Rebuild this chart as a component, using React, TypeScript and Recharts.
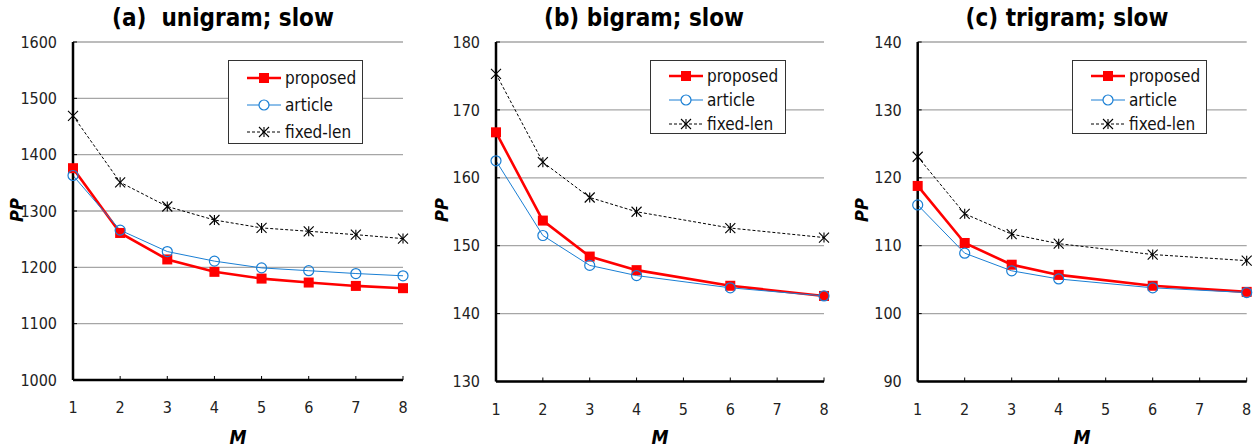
import React from 'react';
import { LineChart, Line, XAxis, YAxis, CartesianGrid, Legend } from 'recharts';

const FONT = '"Liberation Sans Narrow", "Arial Narrow", "DejaVu Sans Condensed", sans-serif';

const mTicks = [1, 2, 3, 4, 5, 6, 7, 8];

// (a) unigram
const uniM = [1, 2, 3, 4, 5, 6, 7, 8];
const uniProposed = [1376, 1261, 1214, 1192, 1180, 1173, 1167, 1163];
const uniArticle = [1363, 1266, 1228, 1211, 1199, 1194, 1189, 1185];
const uniFixed = [1469, 1351, 1308, 1284, 1270, 1264, 1258, 1251];
const uniTicks = [1000, 1100, 1200, 1300, 1400, 1500, 1600];

// (b) bigram
const biM = [1, 2, 3, 4, 6, 8];
const biProposed = [166.7, 153.7, 148.4, 146.4, 144.1, 142.6];
const biArticle = [162.5, 151.5, 147.1, 145.6, 143.8, 142.6];
const biFixed = [175.3, 162.3, 157.1, 155.0, 152.6, 151.2];
const biTicks = [130, 140, 150, 160, 170, 180];

// (c) trigram
const triM = [1, 2, 3, 4, 6, 8];
const triProposed = [118.8, 110.4, 107.2, 105.7, 104.1, 103.2];
const triArticle = [116.0, 108.9, 106.3, 105.1, 103.8, 103.1];
const triFixed = [123.1, 114.7, 111.7, 110.3, 108.7, 107.8];
const triTicks = [90, 100, 110, 120, 130, 140];

const RED = '#ff0000';
const BLUE = '#1a7fd4';

type Row = { m: number; proposed: number; article: number; fixed: number };

const buildRows = (ms: number[], p: number[], a: number[], f: number[]): Row[] =>
  ms.map((m, i) => ({ m, proposed: p[i], article: a[i], fixed: f[i] }));

const SquareDot = (props: any) => {
  const { cx, cy } = props;
  if (cx == null || cy == null) return null;
  return <rect x={cx - 5} y={cy - 5} width={10} height={10} fill={RED} />;
};

const CircleDot = (props: any) => {
  const { cx, cy } = props;
  if (cx == null || cy == null) return null;
  return <circle cx={cx} cy={cy} r={5} fill="none" stroke={BLUE} strokeWidth={1.2} />;
};

const StarDot = (props: any) => {
  const { cx, cy } = props;
  if (cx == null || cy == null) return null;
  const s = 5;
  return (
    <g stroke="#000" strokeWidth={1.1}>
      <line x1={cx - s} y1={cy - s} x2={cx + s} y2={cy + s} />
      <line x1={cx - s} y1={cy + s} x2={cx + s} y2={cy - s} />
      <line x1={cx} y1={cy - s} x2={cx} y2={cy + s} />
    </g>
  );
};

function LegendBox({ rowGap, width, height }: { rowGap: number; width: number; height: number }) {
  const items = [
    { label: 'proposed', kind: 'square' },
    { label: 'article', kind: 'circle' },
    { label: 'fixed-len', kind: 'star' },
  ];
  return (
    <div
      style={{
        width,
        height,
        boxSizing: 'border-box',
        border: '1.5px solid #333',
        background: '#fff',
        paddingTop: 3,
        fontFamily: FONT,
        fontSize: 17,
        color: '#111',
      }}
    >
      {items.map((it) => (
        <div key={it.label} style={{ display: 'flex', alignItems: 'center', height: rowGap }}>
          <svg width={56} height={16} style={{ marginLeft: 14 }}>
            {it.kind === 'square' && (
              <g>
                <line x1={4} y1={8} x2={38} y2={8} stroke={RED} strokeWidth={2.5} />
                <rect x={16} y={3} width={10} height={10} fill={RED} />
              </g>
            )}
            {it.kind === 'circle' && (
              <g>
                <line x1={4} y1={8} x2={38} y2={8} stroke={BLUE} strokeWidth={1} />
                <circle cx={21} cy={8} r={5} fill="#fff" stroke={BLUE} strokeWidth={1.2} />
              </g>
            )}
            {it.kind === 'star' && (
              <g>
                <line x1={4} y1={8} x2={38} y2={8} stroke="#000" strokeWidth={1} strokeDasharray="3 2" />
                <StarDot cx={21} cy={8} />
              </g>
            )}
          </svg>
          <span style={{ marginLeft: -14 }}>{it.label}</span>
        </div>
      ))}
    </div>
  );
}

type PanelProps = {
  left: number;
  width: number;
  title: string;
  titleX: number;
  rows: Row[];
  yDomain: [number, number];
  yTicks: number[];
  margin: { top: number; right: number; bottom: number; left: number };
  legend: { left: number; top: number; width: number; height: number; rowGap: number };
  ppX: number;
  mX: number;
};

function Panel(p: PanelProps) {
  const tickStyle = { fontSize: 16, fill: '#222', fontFamily: FONT };
  return (
    <div style={{ position: 'absolute', left: p.left, top: 0, width: p.width, height: 448 }}>
      <LineChart width={p.width} height={448} data={p.rows} margin={p.margin}>
        <CartesianGrid vertical={false} stroke="#a6a6a6" strokeWidth={1.3} />
        <XAxis
          dataKey="m"
          type="number"
          domain={[1, 8]}
          ticks={mTicks}
          height={40}
          axisLine={{ stroke: '#000', strokeWidth: 2.5 }}
          tickLine={{ stroke: '#000', strokeWidth: 1 }}
          tickSize={-4}
          tickMargin={26}
          tick={tickStyle}
        />
        <XAxis xAxisId="top" dataKey="m" type="number" domain={[1, 8]} orientation="top" height={0} tick={false} tickLine={false} axisLine={{ stroke: '#000', strokeWidth: 1.5 }} />
        <YAxis
          type="number"
          domain={p.yDomain}
          ticks={p.yTicks}
          width={60}
          interval={0}
          axisLine={{ stroke: '#000', strokeWidth: 2.5 }}
          tickLine={{ stroke: '#000', strokeWidth: 1 }}
          tickSize={-4}
          tickMargin={20}
          tick={tickStyle}
        />
        <YAxis yAxisId="right" orientation="right" width={0} domain={p.yDomain} tick={false} tickLine={false} axisLine={{ stroke: '#000', strokeWidth: 1.5 }} />
        <Legend
          layout="vertical"
          align="center"
          verticalAlign="middle"
          wrapperStyle={{ left: p.legend.left, top: p.legend.top, width: p.legend.width }}
          content={() => <LegendBox rowGap={p.legend.rowGap} width={p.legend.width} height={p.legend.height} />}
        />
        <Line dataKey="fixed" name="fixed-len" stroke="#000" strokeWidth={1} strokeDasharray="3 2" dot={<StarDot />} isAnimationActive={false} />
        <Line dataKey="proposed" name="proposed" stroke={RED} strokeWidth={2.6} dot={<SquareDot />} isAnimationActive={false} />
        <Line dataKey="article" name="article" stroke={BLUE} strokeWidth={1} dot={<CircleDot />} isAnimationActive={false} />
      </LineChart>
      <div
        style={{
          position: 'absolute',
          left: p.titleX - 150,
          width: 300,
          top: 4,
          textAlign: 'center',
          fontFamily: FONT,
          fontWeight: 'bold',
          fontSize: 24,
          color: '#000',
          whiteSpace: 'pre',
        }}
      >
        {p.title}
      </div>
      <div
        style={{
          position: 'absolute',
          left: p.ppX - 20,
          top: 200,
          width: 40,
          height: 20,
          lineHeight: '20px',
          textAlign: 'center',
          transform: 'rotate(-90deg)',
          fontFamily: FONT,
          fontWeight: 'bold',
          fontStyle: 'italic',
          fontSize: 18,
        }}
      >
        PP
      </div>
      <div
        style={{
          position: 'absolute',
          left: p.mX - 20,
          width: 40,
          top: 427,
          lineHeight: '20px',
          textAlign: 'center',
          fontFamily: FONT,
          fontWeight: 'bold',
          fontStyle: 'italic',
          fontSize: 19,
        }}
      >
        M
      </div>
    </div>
  );
}

export default function App() {
  return (
    <div style={{ position: 'absolute', left: 0, top: 0, width: 1259, height: 448, background: '#fff', overflow: 'hidden' }}>
      <Panel
        left={0}
        width={420}
        title="(a)  unigram; slow"
        titleX={223}
        rows={buildRows(uniM, uniProposed, uniArticle, uniFixed)}
        yDomain={[1000, 1600]}
        yTicks={uniTicks}
        margin={{ top: 42, right: 17, bottom: 28, left: 13 }}
        legend={{ left: 228, top: 60, width: 135, height: 84, rowGap: 27 }}
        ppX={17}
        mX={238}
      />
      <Panel
        left={420}
        width={420}
        title="(b) bigram; slow"
        titleX={224}
        rows={buildRows(biM, biProposed, biArticle, biFixed)}
        yDomain={[130, 180]}
        yTicks={biTicks}
        margin={{ top: 42, right: 16, bottom: 26.5, left: 16 }}
        legend={{ left: 230, top: 60, width: 136, height: 74, rowGap: 24 }}
        ppX={22}
        mX={240}
      />
      <Panel
        left={840}
        width={419}
        title="(c) trigram; slow"
        titleX={227}
        rows={buildRows(triM, triProposed, triArticle, triFixed)}
        yDomain={[90, 140]}
        yTicks={triTicks}
        margin={{ top: 42, right: 12.3, bottom: 26.5, left: 17.7 }}
        legend={{ left: 232, top: 60, width: 135, height: 74, rowGap: 24 }}
        ppX={22}
        mX={242}
      />
    </div>
  );
}
